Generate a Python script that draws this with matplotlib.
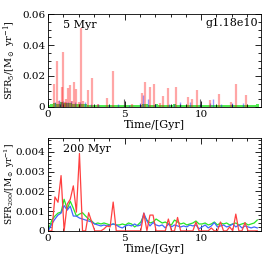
import numpy as np
import matplotlib
matplotlib.use("Agg")
import matplotlib.pyplot as plt
from matplotlib.ticker import MultipleLocator, FuncFormatter

plt.rcParams['font.family'] = ['DejaVu Serif']
plt.rcParams['mathtext.fontset'] = 'dejavuserif'

# ---------------- top panel: 5 Myr SFR spikes ----------------
red5_t = [0.43, 0.62, 0.70, 0.90, 0.98, 1.10, 1.20, 1.32, 1.47, 1.55, 1.68, 1.81, 2.00,
          2.14, 2.30, 2.62, 2.86, 3.30, 3.85, 4.25, 5.50, 6.17, 6.34, 6.64, 6.91, 7.32,
          7.50, 7.86, 8.37, 9.15, 9.43, 9.72, 10.59, 11.15, 11.94, 12.29, 12.92]
red5_v = [0.0145, 0.030, 0.004, 0.013, 0.0357, 0.003, 0.005, 0.012, 0.014, 0.004, 0.016,
          0.0115, 0.003, 0.051, 0.004, 0.011, 0.0187, 0.002, 0.006, 0.023, 0.002, 0.0088,
          0.016, 0.0127, 0.0148, 0.0025, 0.007, 0.012, 0.013, 0.0066, 0.005, 0.011,
          0.0045, 0.0084, 0.0035, 0.0148, 0.0077]
blue5_t = [0.45, 0.70, 0.85, 1.00, 1.15, 1.30, 1.50, 1.75, 2.10, 2.40, 2.80, 3.30, 4.00,
           4.60, 5.30, 6.00, 6.20, 6.50, 7.00, 7.90, 8.20, 8.60, 9.30, 9.90, 10.60,
           10.80, 11.30, 12.00, 12.70]
blue5_v = [0.003, 0.0045, 0.003, 0.004, 0.0035, 0.003, 0.004, 0.003, 0.0035, 0.003, 0.002,
           0.002, 0.0015, 0.002, 0.0015, 0.0025, 0.0077, 0.005, 0.002, 0.002, 0.002,
           0.003, 0.003, 0.002, 0.0025, 0.005, 0.002, 0.0025, 0.0025]
black5_t = [0.80, 4.97, 8.60, 9.93]
black5_v = [0.002, 0.005, 0.002, 0.005]

# ---------------- bottom panel: 200 Myr SFR ----------------
bin_start, bin_step, n_bins = 0.06, 0.2, 69
t200 = bin_start + bin_step * np.arange(n_bins)

red200 = np.array([0, 0, 1.72, 1.45, 2.80, 0, 1.35, 1.60, 2.28, 0.95,
                   3.92, 0, 0, 0.92, 0.45, 0, 0, 0, 0.10, 0.25,
                   0.20, 1.46, 0, 0, 0, 0, 0, 0, 0, 0,
                   0, 0.90, 0, 0.80, 0.80, 0, 0, 0, 0, 0.60,
                   0, 0, 0.68, 0, 0, 0, 0, 0, 0.45, 0,
                   0, 0, 0, 0.15, 0, 0, 0.45, 0, 0, 0.20,
                   0, 0.85, 0, 0, 0.42, 0, 0, 0, 0]) * 1e-3
blue200 = np.array([0.05, 0.35, 0.60, 0.80, 0.90, 1.28, 1.05, 1.25, 0.75, 0.75,
                    0.65, 0.60, 0.55, 0.50, 0.45, 0.35, 0.30, 0.25, 0.30, 0.25,
                    0.30, 0.35, 0.30, 0.20, 0.15, 0.25, 0.30, 0.25, 0.35, 0.25,
                    0.30, 0.90, 0.50, 0.25, 0.42, 0.30, 0.25, 0.30, 0.15, 0.35,
                    0.20, 0.30, 0.25, 0.20, 0.25, 0.20, 0.30, 0.25, 0.30, 0.10,
                    0.20, 0.30, 0.15, 0.25, 0.42, 0.20, 0.25, 0.30, 0.20, 0.25,
                    0.35, 0.20, 0.30, 0.15, 0.25, 0.20, 0.15, 0.20, 0.15]) * 1e-3
green200 = np.array([0.10, 0.55, 0.75, 0.90, 0.95, 1.60, 1.10, 1.50, 1.15, 0.75,
                     0.85, 0.92, 0.75, 0.60, 0.50, 0.35, 0.40, 0.35, 0.40, 0.35,
                     0.30, 0.35, 0.30, 0.30, 0.35, 0.30, 0.40, 0.35, 0.20, 0.30,
                     0.45, 0.78, 0.55, 0.40, 0.45, 0.60, 0.50, 0.40, 0.45, 0.35,
                     0.30, 0.55, 0.45, 0.35, 0.40, 0.30, 0.35, 0.40, 0.50, 0.35,
                     0.35, 0.40, 0.30, 0.35, 0.45, 0.30, 0.40, 0.35, 0.40, 0.30,
                     0.35, 0.40, 0.30, 0.35, 0.40, 0.30, 0.35, 0.40, 0.55]) * 1e-3

# green baseline band in top panel (5 Myr), sampled on the same time grid
green5 = np.array([1.0, 1.8, 2.5, 2.2, 3.0, 2.6, 2.8, 2.4, 2.2, 1.8,
                   2.0, 1.8, 1.6, 1.5, 1.4, 1.3, 1.5, 1.3, 1.4, 1.2,
                   1.3, 1.4, 1.2, 1.3, 1.4, 1.2, 1.5, 1.3, 1.1, 1.3,
                   1.5, 2.0, 1.6, 1.4, 1.5, 1.6, 1.5, 1.3, 1.4, 1.3,
                   1.2, 1.6, 1.4, 1.3, 1.4, 1.2, 1.3, 1.4, 1.5, 1.3,
                   1.3, 1.4, 1.2, 1.3, 1.5, 1.2, 1.4, 1.3, 1.4, 1.2,
                   1.3, 1.4, 1.2, 1.3, 1.4, 1.2, 1.3, 1.4, 1.6]) * 1e-3

fig = plt.figure(figsize=(2.66, 2.66), dpi=100)
ax1 = fig.add_axes([0.180, 0.598, 0.801, 0.349])
ax2 = fig.add_axes([0.180, 0.132, 0.801, 0.349])

ax1.vlines(blue5_t, 0, blue5_v, color='blue', alpha=0.4, linewidth=1.0)
ax1.vlines(red5_t, 0, red5_v, color='red', alpha=0.35, linewidth=1.6)
ax1.vlines(black5_t, 0, black5_v, color='black', alpha=0.6, linewidth=0.8)
ax1.bar(t200, green5, width=0.2, color=(0.1, 0.9, 0.1), alpha=0.75, linewidth=0)

ax2.plot(t200, green200, color=(0.15, 0.9, 0.15), lw=0.9)
ax2.plot(t200, blue200, color=(0.25, 0.4, 1.0), lw=0.9)
ax2.plot(t200, red200, color=(1.0, 0.25, 0.25), lw=0.9)

def fmt(v, pos):
    if abs(v) < 1e-12:
        return "0"
    return ("%.4f" % v).rstrip('0')

for ax in (ax1, ax2):
    ax.set_xlim(0, 13.9)
    ax.xaxis.set_major_locator(MultipleLocator(5))
    ax.xaxis.set_minor_locator(MultipleLocator(1))
    ax.tick_params(which='both', direction='in', top=True, right=True,
                   labelsize=7.5, width=0.6, pad=2)
    ax.tick_params(which='major', length=4.5)
    ax.tick_params(which='minor', length=2.3)
    ax.yaxis.set_major_formatter(FuncFormatter(fmt))
    for sp in ax.spines.values():
        sp.set_linewidth(0.6)
    ax.set_xlabel('Time/[Gyr]', fontsize=8, labelpad=1)

ax1.set_ylim(0, 0.06)
ax1.yaxis.set_major_locator(MultipleLocator(0.02))
ax1.yaxis.set_minor_locator(MultipleLocator(0.005))
ax1.set_ylabel(r'SFR$_5$/[M$_\odot$ yr$^{-1}$]', fontsize=7)
ax1.yaxis.set_label_coords(-0.14, 0.5)
ax1.text(0.07, 0.85, '5 Myr', transform=ax1.transAxes, fontsize=8)
ax1.text(0.985, 0.87, 'g1.18e10', transform=ax1.transAxes, fontsize=8, ha='right')

ax2.set_ylim(0, 0.0047)
ax2.yaxis.set_major_locator(MultipleLocator(0.001))
ax2.yaxis.set_minor_locator(MultipleLocator(0.0002))
ax2.set_ylabel(r'SFR$_{200}$/[M$_\odot$ yr$^{-1}$]', fontsize=6.5)
ax2.yaxis.set_label_coords(-0.145, 0.5)
ax2.text(0.07, 0.85, '200 Myr', transform=ax2.transAxes, fontsize=8)

fig.savefig('out.png', dpi=100)
